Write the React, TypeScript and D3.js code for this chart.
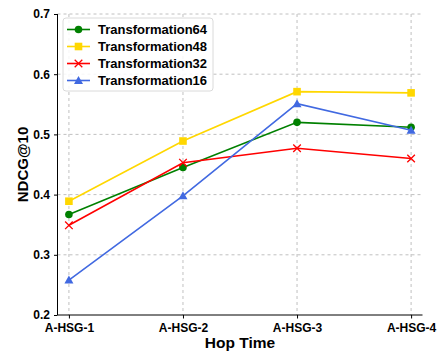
import { useEffect, useRef } from 'react'
import * as d3 from 'd3'

const categories = ['A-HSG-1', 'A-HSG-2', 'A-HSG-3', 'A-HSG-4']
const yTicks = [0.2, 0.3, 0.4, 0.5, 0.6, 0.7]

const t64 = [0.367, 0.445, 0.520, 0.512]
const t48 = [0.389, 0.489, 0.571, 0.569]
const t32 = [0.349, 0.453, 0.477, 0.460]
const t16 = [0.258, 0.398, 0.551, 0.507]

const seriesNames = ['Transformation64', 'Transformation48', 'Transformation32', 'Transformation16']
const seriesColors = ['#008000', '#FFD700', '#FF0000', '#4169E1']
const seriesMarkers = ['circle', 'square', 'x', 'triangle']

const FONT = '"Liberation Sans", Arial, sans-serif'

export default function App() {
  const ref = useRef<SVGSVGElement>(null)

  useEffect(() => {
    const svg = d3.select(ref.current)
    svg.selectAll('*').remove()

    const left = 57.5
    const right = 422.5
    const top = 14
    const bottom = 315

    const x = d3.scaleLinear().domain([-0.1, 3.1]).range([left, right])
    const y = d3.scaleLinear().domain([0.2, 0.7]).range([bottom, top])

    // grid
    const grid = svg.append('g')
    grid.selectAll('.hg')
      .data(yTicks.slice(1))
      .enter().append('line')
      .attr('x1', left).attr('x2', right)
      .attr('y1', d => y(d)).attr('y2', d => y(d))
      .attr('stroke', '#b0b0b0').attr('stroke-width', 0.8)
      .attr('stroke-dasharray', '3,3')
    grid.selectAll('.vg')
      .data(categories)
      .enter().append('line')
      .attr('x1', (d, i) => x(i)).attr('x2', (d, i) => x(i))
      .attr('y1', top).attr('y2', bottom)
      .attr('stroke', '#b0b0b0').attr('stroke-width', 0.8)
      .attr('stroke-dasharray', '3,3')

    // axes
    const yAxis = svg.append('g')
      .attr('transform', `translate(${left},0)`)
      .call(d3.axisLeft(y).tickValues(yTicks).tickFormat(d3.format('.1f')).tickSize(3.5).tickPadding(4))
    const xAxis = svg.append('g')
      .attr('transform', `translate(0,${bottom})`)
      .call(d3.axisBottom(x).tickValues(d3.range(categories.length)).tickFormat((d: any) => categories[d]).tickSize(3.5).tickPadding(4.5))
    yAxis.select('.domain').attr('d', `M0,${top}V${bottom}`)
    xAxis.select('.domain').attr('d', `M${left},0H${right}`)
    for (const a of [xAxis, yAxis]) {
      a.selectAll('text')
        .attr('font-family', FONT).attr('font-weight', 'bold')
        .attr('font-size', 12).attr('fill', '#000')
      a.selectAll('line').attr('stroke', '#000')
      a.select('.domain').attr('stroke', '#000').attr('stroke-width', 1)
    }

    const allSeries = [t64, t48, t32, t16]

    const drawMarker = (g: any, kind: string, cx: number, cy: number, color: string) => {
      if (kind === 'circle') {
        g.append('circle').attr('cx', cx).attr('cy', cy).attr('r', 3.8).attr('fill', color)
      } else if (kind === 'square') {
        g.append('rect').attr('x', cx - 3.8).attr('y', cy - 3.8).attr('width', 7.6).attr('height', 7.6).attr('fill', color)
      } else if (kind === 'x') {
        g.append('path').attr('d', `M${cx - 3.8},${cy - 3.8}L${cx + 3.8},${cy + 3.8}M${cx - 3.8},${cy + 3.8}L${cx + 3.8},${cy - 3.8}`)
          .attr('stroke', color).attr('stroke-width', 1.3).attr('fill', 'none')
      } else {
        g.append('path').attr('d', `M${cx},${cy - 4.5}L${cx + 4.5},${cy + 3.5}L${cx - 4.5},${cy + 3.5}Z`).attr('fill', color)
      }
    }

    const line = d3.line<number>().x((d, i) => x(i)).y(d => y(d))
    allSeries.forEach((s, k) => {
      const g = svg.append('g')
      g.append('path').attr('d', line(s)).attr('fill', 'none')
        .attr('stroke', seriesColors[k]).attr('stroke-width', 1.6)
      s.forEach((v, i) => drawMarker(g, seriesMarkers[k], x(i), y(v), seriesColors[k]))
    })

    // legend
    const lg = svg.append('g')
    lg.append('rect').attr('x', 63).attr('y', 18).attr('width', 150).attr('height', 73).attr('rx', 3)
      .attr('fill', 'white').attr('fill-opacity', 0.85).attr('stroke', '#d0d0d0').attr('stroke-width', 0.8)
    seriesNames.forEach((name, k) => {
      const ly = 29.5 + k * 17
      lg.append('line').attr('x1', 67).attr('x2', 90).attr('y1', ly).attr('y2', ly)
        .attr('stroke', seriesColors[k]).attr('stroke-width', 1.6)
      drawMarker(lg, seriesMarkers[k], 78.5, ly, seriesColors[k])
      lg.append('text').attr('x', 98).attr('y', ly + 4.7).text(name)
        .attr('font-family', FONT).attr('font-weight', 'bold').attr('font-size', 13)
    })

    // axis titles
    svg.append('text').attr('x', (left + right) / 2).attr('y', 348).attr('text-anchor', 'middle')
      .attr('font-family', FONT).attr('font-weight', 'bold').attr('font-size', 15.5).text('Hop Time')
    svg.append('text').attr('transform', `translate(28,${(top + bottom) / 2}) rotate(-90)`).attr('text-anchor', 'middle')
      .attr('font-family', FONT).attr('font-weight', 'bold').attr('font-size', 15).text('NDCG@10')
  }, [])

  return (
    <svg ref={ref} width={437} height={352} style={{ position: 'absolute', left: 0, top: 0, background: 'white' }} />
  )
}
